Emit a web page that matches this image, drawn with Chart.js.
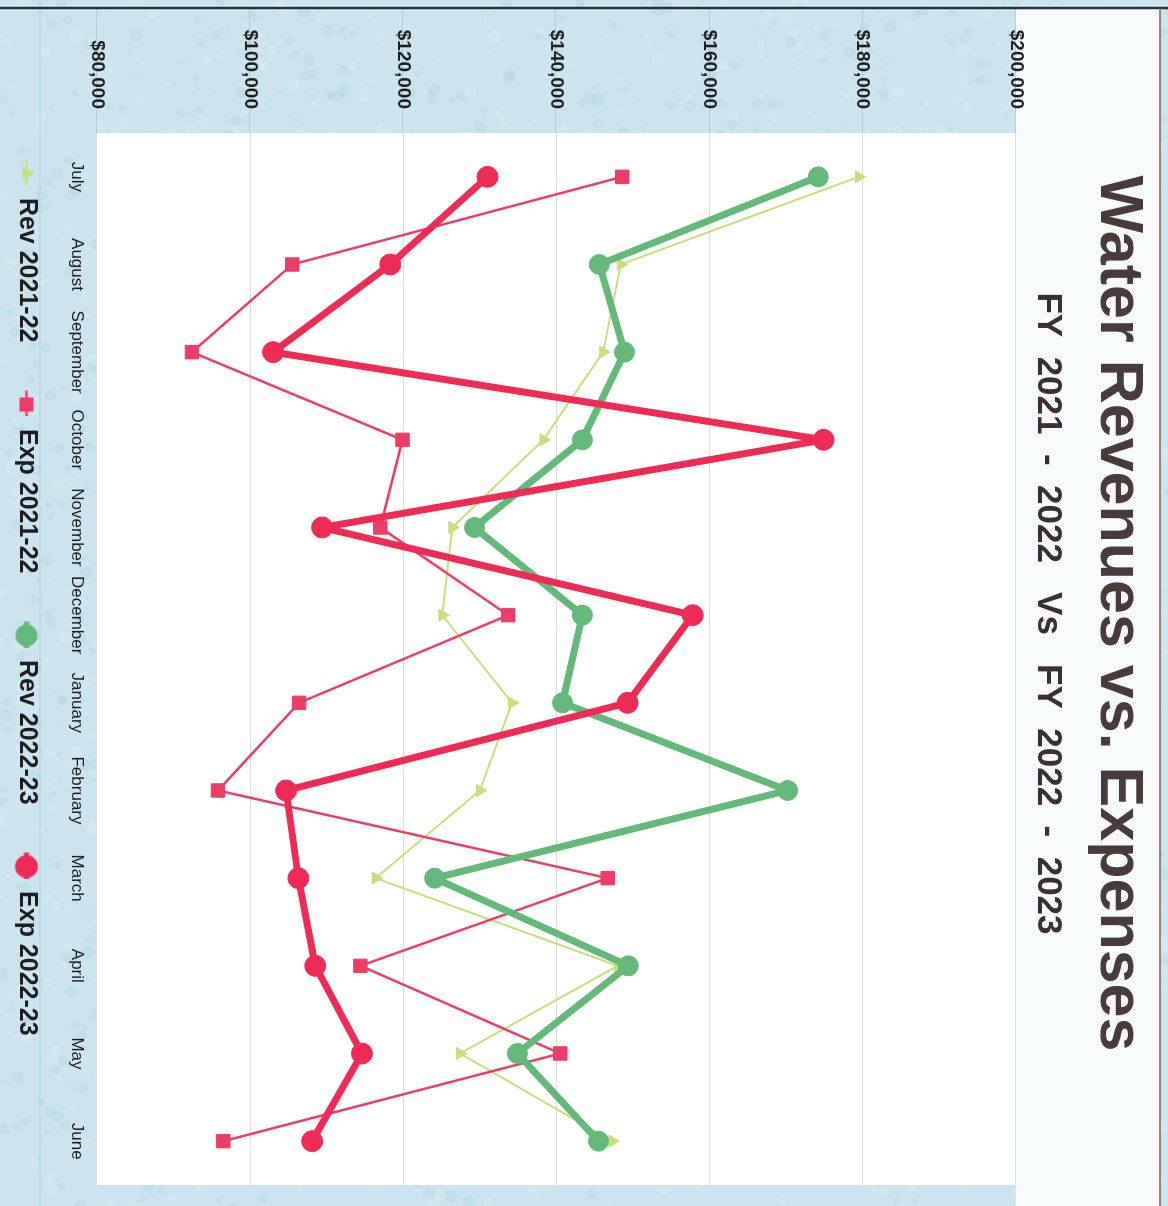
<!DOCTYPE html>
<html>
<head>
<meta charset="utf-8">
<title>Water Revenues vs. Expenses</title>
<script src="https://cdn.jsdelivr.net/npm/chart.js@4.4.0/dist/chart.umd.min.js"></script>
<style>
html,body{margin:0;padding:0;overflow:hidden;background:#cbe4ef;}
/* chart is laid out landscape, then turned a quarter clockwise onto the page */
#wrap{position:absolute;left:0;top:0;width:1206px;height:1168px;transform-origin:0 0;transform:translate(1168px,0) rotate(90deg);}
</style>
</head>
<body>
<div id="wrap"><canvas id="chart" width="1206" height="1168"></canvas></div>
<script>
var months=['July','August','September','October','November','December','January','February','March','April','May','June'];
var rev2122=[179500,148400,146100,138300,126400,125100,134200,130000,116400,148000,127400,147300];
var exp2122=[148600,105500,92400,119900,117000,133700,106400,95800,146700,114400,140500,96500];
var rev2223=[174200,145600,148900,143400,129300,143400,140800,170200,124100,149400,134900,145500];
var exp2223=[131000,118300,103000,174900,109400,157800,149300,104700,106300,108500,114600,108100];
var yTicks=[80000,100000,120000,140000,160000,180000,200000];

var FONT='"Liberation Sans", Arial, sans-serif';
var SW=66; // legend swatch width

// legend swatch: short line with the series marker, at the right end of the box
function swatch(color,lw,style,r){
    var c=document.createElement('canvas');
    c.width=SW;c.height=30;
    var g=c.getContext('2d');
    var cx=SW-12,cy=15;
    g.strokeStyle=color;g.fillStyle=color;g.lineWidth=lw;
    g.beginPath();g.moveTo(SW-26,cy);g.lineTo(SW,cy);g.stroke();
    Chart.helpers.drawPoint(g,{pointStyle:style,radius:r,borderWidth:1,rotation:0},cx,cy);
    g.fill();
    return c;
}

var series=[
    {label:'Rev 2021-22',data:rev2122,color:'#c6df7c',lw:2,style:'triangle',r:7,order:4},
    {label:'Exp 2021-22',data:exp2122,color:'#ec3d68',lw:2.5,style:'rect',r:9.5,order:3},
    {label:'Rev 2022-23',data:rev2223,color:'#62b97a',lw:7,style:'circle',r:10,order:2},
    {label:'Exp 2022-23',data:exp2223,color:'#ee2b56',lw:7,style:'circle',r:10.5,order:1}
];

var datasets=series.map(function(s){
    return {
        label:s.label,data:s.data,order:s.order,
        borderColor:s.color,backgroundColor:s.color,borderWidth:s.lw,
        borderJoinStyle:'round',borderCapStyle:'round',
        pointStyle:s.style,pointRadius:s.r,pointBorderWidth:1,
        pointBackgroundColor:s.color,pointBorderColor:s.color,
        tension:0,fill:false
    };
});

var seed=11;
function nextSeed(){seed=(seed*16807)%2147483647;return seed/2147483647;}

var backdrop={
    id:'backdrop',
    afterLayout:function(chart){
        // legend row sits a little left of centre, the headings a little right
        chart.legend.left-=38;
        chart.boxes.forEach(function(b){
            if(b.position==='top'&&b.options&&b.options.text){b.left+=17;b.right+=17;}
        });
    },
    beforeDraw:function(chart){
        var ctx=chart.ctx,a=chart.chartArea,W=chart.width,H=chart.height;
        ctx.save();
        ctx.fillStyle='#cbe4ef';
        ctx.fillRect(0,0,W,H);
        // mottled paper
        seed=11;
        for(var i=0;i<3000;i++){
            var x=nextSeed()*W,y=nextSeed()*H,rad=1.5+nextSeed()*5;
            ctx.fillStyle=(nextSeed()<0.45)?'rgba(140,195,220,0.16)':'rgba(236,246,250,0.22)';
            ctx.beginPath();ctx.arc(x,y,rad,0,Math.PI*2);ctx.fill();
        }
        ctx.fillStyle='#f7fafb';
        ctx.fillRect(8,8,W-8,a.top-8);
        ctx.fillStyle='#ffffff';
        ctx.fillRect(a.left,a.top,a.right-a.left,a.bottom-a.top);
        // grid lines carried across the value-label band
        var ys=chart.scales.y;
        ctx.strokeStyle='rgba(160,185,196,0.55)';ctx.lineWidth=1;
        yTicks.forEach(function(v){
            var p=Math.round(ys.getPixelForValue(v))+0.5;
            ctx.beginPath();ctx.moveTo(8,p);ctx.lineTo(a.left,p);ctx.stroke();
        });
        ctx.strokeStyle='#a8cde0';ctx.lineWidth=1.2;
        ctx.beginPath();ctx.moveTo(0,1128);ctx.lineTo(W,1128);ctx.stroke();
        ctx.strokeStyle='#26343c';ctx.lineWidth=2.5;
        ctx.beginPath();ctx.moveTo(8,0);ctx.lineTo(8,H);ctx.stroke();
        ctx.strokeStyle='#8c5d55';ctx.lineWidth=1.5;
        ctx.beginPath();ctx.moveTo(8,8);ctx.lineTo(W,8);ctx.stroke();
        ctx.restore();
    }
};

var chart=new Chart(document.getElementById('chart'),{
    type:'line',
    data:{labels:months,datasets:datasets},
    plugins:[backdrop],
    options:{
        responsive:false,
        animation:false,
        devicePixelRatio:1,
        layout:{padding:{left:8,right:21,top:0,bottom:4}},
        plugins:{
            title:{
                display:true,text:'Water Revenues vs. Expenses',color:'#4a3b3b',
                font:{family:FONT,size:61,weight:'bold',lineHeight:1.2},
                padding:{top:14,bottom:0}
            },
            subtitle:{
                display:true,text:'FY  2021  -  2022   Vs   FY  2022  -  2023',color:'#3a3030',
                font:{family:FONT,size:35,weight:'bold',lineHeight:1.2},
                padding:{top:12,bottom:11}
            },
            legend:{
                position:'bottom',
                labels:{
                    usePointStyle:true,pointStyleWidth:SW,padding:8,color:'#1e1e1e',
                    font:{family:FONT,size:25,weight:'bold'},
                    generateLabels:function(ch){
                        return series.map(function(s,i){
                            return {text:s.label,datasetIndex:i,pointStyle:swatch(s.color,Math.min(s.lw,5),s.style,s.r*0.85),
                                fillStyle:s.color,strokeStyle:s.color,lineWidth:0,hidden:false,fontColor:'#1e1e1e'};
                        });
                    }
                }
            },
            tooltip:{enabled:false}
        },
        scales:{
            x:{
                type:'category',offset:true,
                grid:{display:false},border:{display:false},
                ticks:{color:'#1e1e1e',font:{family:FONT,size:17},padding:2,maxRotation:0,autoSkip:false},
                afterFit:function(s){s.height=50;}
            },
            y:{
                min:80000,max:200000,
                afterBuildTicks:function(s){s.ticks=yTicks.map(function(v){return {value:v};});},
                grid:{color:'#dcdcdc',lineWidth:1,drawTicks:false},
                border:{display:false},
                ticks:{color:'#1e1e1e',font:{family:FONT,size:19,weight:'bold'},padding:24,
                    callback:function(v){return '$'+Number(v).toLocaleString('en-US');}},
                afterFit:function(s){s.width=125;}
            }
        }
    }
});
</script>
</body>
</html>
